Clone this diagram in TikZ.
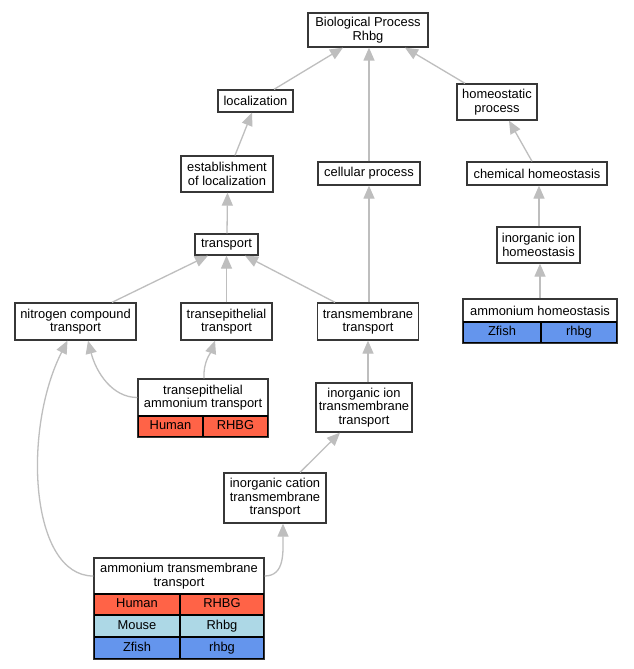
\documentclass[tikz,border=0pt]{standalone}
\usepackage{fontspec}
\setmainfont{Liberation Sans}
\usetikzlibrary{arrows.meta}
\definecolor{edgecol}{RGB}{190,190,190}
\definecolor{bordercol}{RGB}{55,55,55}
\definecolor{humancol}{RGB}{255,99,71}
\definecolor{mousecol}{RGB}{173,216,230}
\definecolor{zfishcol}{RGB}{100,149,237}
\tikzset{
  gobox/.style={draw=bordercol, line width=1.3pt, fill=white, inner sep=0pt, align=center,
    font=\fontsize{12.9}{13.6}\selectfont},
  cellbox/.style={draw=black, line width=1.1pt, inner sep=0pt, align=center,
    font=\fontsize{12.9}{13.6}\selectfont, minimum height=21pt, text height=9.3pt, text depth=2.7pt},
  goedge/.style={draw=edgecol, line width=1.3pt, -{Triangle[length=13pt,width=11pt]}},
}
\begin{document}
\begin{tikzpicture}[x=1pt,y=-1pt]
\fill[white] (0,0) rectangle (633,669);
\useasboundingbox (0,0) rectangle (633,669);

% nodes
\node[gobox, minimum width=120pt, minimum height=34pt] (bp) at (368,30) {Biological Process\\Rhbg};
\node[gobox, minimum width=75pt, minimum height=22pt] (loc) at (255.5,101) {localization};
\node[gobox, minimum width=80pt, minimum height=36pt] (homeo) at (497,102) {homeostatic\\process};
\node[gobox, minimum width=92pt, minimum height=36pt] (estab) at (227,174) {establishment\\of localization};
\node[gobox, minimum width=102pt, minimum height=23pt] (cellp) at (369,173.5) {cellular process};
\node[gobox, minimum width=140pt, minimum height=23pt] (chem) at (537,173.5) {chemical homeostasis};
\node[gobox, minimum width=63pt, minimum height=21pt] (transp) at (226.5,244.5) {transport};
\node[gobox, minimum width=83pt, minimum height=36pt] (iih) at (538.5,245) {inorganic ion\\homeostasis};
\node[gobox, minimum width=121pt, minimum height=37pt] (nct) at (75.5,321.5) {nitrogen compound\\transport};
\node[gobox, minimum width=91pt, minimum height=37pt] (tet) at (226.5,321.5) {transepithelial\\transport};
\node[gobox, minimum width=101pt, minimum height=37pt] (tmt) at (368,321.5) {transmembrane\\transport};

% ammonium homeostasis table
\node[gobox, minimum width=154pt, minimum height=23pt] (ah) at (540,310.5) {ammonium homeostasis};
\node[cellbox, fill=zfishcol, minimum width=78pt] (ahz) at (502,332.5) {Zfish};
\node[cellbox, fill=zfishcol, minimum width=76pt] (ahg) at (579,332.5) {rhbg};
\draw[bordercol, line width=1.3pt] (ah.north west) rectangle (ahg.south east);

% transepithelial ammonium transport table
\node[gobox, minimum width=130pt, minimum height=37pt] (teat) at (203,397.5) {transepithelial\\ammonium transport};
\node[cellbox, fill=humancol, minimum width=65pt] (teath) at (170.5,426.5) {Human};
\node[cellbox, fill=humancol, minimum width=65pt] (teatg) at (235.5,426.5) {RHBG};
\draw[bordercol, line width=1.3pt] (teat.north west) rectangle (teatg.south east);

\node[gobox, minimum width=96pt, minimum height=49pt] (iitt) at (364,407.5) {inorganic ion\\transmembrane\\transport};
\node[gobox, minimum width=102pt, minimum height=50pt] (ictt) at (275,498) {inorganic cation\\transmembrane\\transport};

% ammonium transmembrane transport table
\node[gobox, minimum width=170pt, minimum height=36pt] (att) at (179,576) {ammonium transmembrane\\transport};
\node[cellbox, fill=humancol, minimum width=86pt] (atth) at (137,604.5) {Human};
\node[cellbox, fill=humancol, minimum width=84pt] (atthg) at (222,604.5) {RHBG};
\node[cellbox, fill=mousecol, minimum width=86pt, minimum height=22pt] (attm) at (137,626) {Mouse};
\node[cellbox, fill=mousecol, minimum width=84pt, minimum height=22pt] (attmg) at (222,626) {Rhbg};
\node[cellbox, fill=zfishcol, minimum width=86pt, minimum height=22pt] (attz) at (137,648) {Zfish};
\node[cellbox, fill=zfishcol, minimum width=84pt, minimum height=22pt] (attzg) at (222,648) {rhbg};
\draw[bordercol, line width=1.3pt] (att.north west) rectangle (attzg.south east);

% edges
\draw[goedge] ([xshift=18.5pt]loc.north) -- ([xshift=-25pt]bp.south);
\draw[goedge] ([xshift=-32pt]homeo.north) -- ([xshift=37pt]bp.south);
\draw[goedge] (cellp.north) -- ([xshift=1pt]bp.south);
\draw[goedge] ([xshift=8pt]estab.north) -- ([xshift=-3.5pt]loc.south);
\draw[goedge] ([xshift=0.5pt]transp.north) -- ([xshift=0.5pt]estab.south);
\draw[goedge] ([xshift=-5pt]chem.north) -- ([xshift=12pt]homeo.south);
\draw[goedge] ([xshift=0.5pt]iih.north) -- ([xshift=2pt]chem.south);
\draw[goedge] ([xshift=0pt]ah.north) -- ([xshift=1.5pt]iih.south);
\draw[goedge] ([xshift=36.5pt]nct.north) -- ([xshift=-18.5pt]transp.south);
\draw[goedge] (tet.north) -- (transp.south);
\draw[goedge] ([xshift=-33pt]tmt.north) -- ([xshift=18.5pt]transp.south);
\draw[goedge] ([xshift=1pt]tmt.north) -- (cellp.south);
\draw[goedge] ([xshift=4pt]iitt.north) -- (tmt.south);
\draw[goedge] ([xshift=25pt]ictt.north) -- ([xshift=-24pt]iitt.south);
\draw[goedge] (teat.west) .. controls (112,397.5) and (96,372) .. ([xshift=12.5pt]nct.south);
\draw[goedge] ([xshift=1pt]teat.north) .. controls (203,362) and (211,352) .. ([xshift=-11.5pt]tet.south);
\draw[goedge] (att.west) .. controls (30,576) and (22,430) .. ([xshift=-8pt]nct.south);
\draw[goedge] (att.east) .. controls (285,576) and (283,552) .. ([xshift=8pt]ictt.south);
\end{tikzpicture}
\end{document}
